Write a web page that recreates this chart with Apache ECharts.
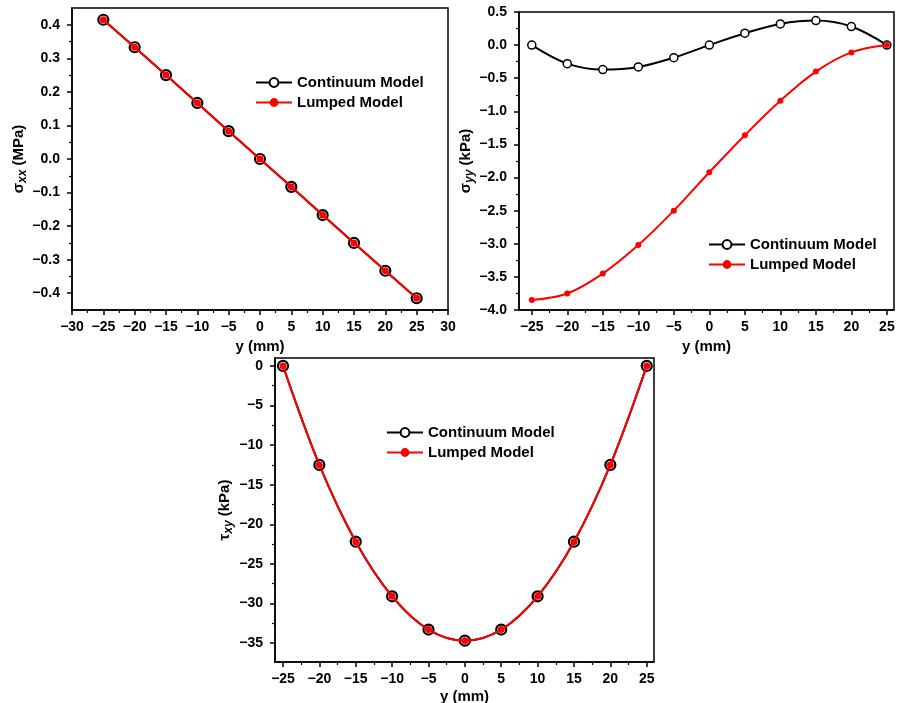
<!DOCTYPE html>
<html>
<head>
<meta charset="utf-8">
<script src="https://cdn.jsdelivr.net/npm/echarts@6/dist/echarts.min.js"></script>
<style>
  html, body { margin: 0; padding: 0; background: #fff; }
  #main { width: 898px; height: 703px; }
</style>
</head>
<body>
<div id="main"></div>
<script>
// positions across the beam (mm)
var yPos = [-25, -20, -15, -10, -5, 0, 5, 10, 15, 20, 25];

// sigma_xx (MPa)
var sxxCont = [0.415, 0.333, 0.25, 0.167, 0.083, 0, -0.083, -0.167, -0.25, -0.333, -0.415];
var sxxLump = [0.415, 0.333, 0.25, 0.167, 0.083, 0, -0.083, -0.167, -0.25, -0.333, -0.415];

// sigma_yy (kPa)
var syyCont = [0, -0.28, -0.37, -0.33, -0.19, 0, 0.18, 0.32, 0.37, 0.28, 0];
var syyLump = [-3.85, -3.75, -3.45, -3.02, -2.5, -1.92, -1.36, -0.84, -0.40, -0.11, 0];

// tau_xy (kPa)
var txyCont = [0, -12.5, -22.2, -29.1, -33.3, -34.7, -33.3, -29.1, -22.2, -12.5, 0];
var txyLump = [0, -12.5, -22.2, -29.1, -33.3, -34.7, -33.3, -29.1, -22.2, -12.5, 0];

// ticks
var x1Ticks = [-30, -25, -20, -15, -10, -5, 0, 5, 10, 15, 20, 25, 30];
var x1Minor = [-27.5, -22.5, -17.5, -12.5, -7.5, -2.5, 2.5, 7.5, 12.5, 17.5, 22.5, 27.5];
var y1Ticks = [-0.4, -0.3, -0.2, -0.1, 0, 0.1, 0.2, 0.3, 0.4];
var y1Minor = [-0.35, -0.25, -0.15, -0.05, 0.05, 0.15, 0.25, 0.35];
var xTicks = [-25, -20, -15, -10, -5, 0, 5, 10, 15, 20, 25];
var xMinor = [-22.5, -17.5, -12.5, -7.5, -2.5, 2.5, 7.5, 12.5, 17.5, 22.5];
var y2Ticks = [-4, -3.5, -3, -2.5, -2, -1.5, -1, -0.5, 0, 0.5];
var y2Minor = [-3.75, -3.25, -2.75, -2.25, -1.75, -1.25, -0.75, -0.25, 0.25];
var y3Ticks = [-35, -30, -25, -20, -15, -10, -5, 0];
var y3Minor = [-32.5, -27.5, -22.5, -17.5, -12.5, -7.5, -2.5];

var FONT = 'Liberation Sans, Arial, sans-serif';

function minus(s) { return String(s).replace('-', '\u2212'); }
function fmt1(v) { return minus(Math.abs(v) < 1e-9 ? '0.0' : v.toFixed(1)); }
function fmt0(v) { return minus(Math.round(v)); }

function pairs(xs, ys) {
  return xs.map(function (x, i) { return [x, ys[i]]; });
}

function axes(dim, gridIndex, min, max, majors, minors, formatter, name, nameGap) {
  var pos = dim === 'x' ? 'bottom' : 'left';
  var major = {
    type: 'value', gridIndex: gridIndex, position: pos, min: min, max: max,
    axisLine: { show: true, onZero: false, lineStyle: { color: '#000', width: 1.5 } },
    axisTick: { show: true, customValues: majors, length: 5, lineStyle: { color: '#000', width: 1.5 } },
    axisLabel: { customValues: majors, formatter: formatter, color: '#000', fontWeight: 'bold',
      fontSize: 14, fontFamily: FONT, margin: dim === 'x' ? 10 : 12 },
    splitLine: { show: false },
    name: name, nameLocation: 'middle', nameGap: nameGap,
    nameTextStyle: { color: '#000', fontWeight: 'bold', fontSize: 15, fontFamily: FONT }
  };
  var minor = {
    type: 'value', gridIndex: gridIndex, position: pos, min: min, max: max, offset: 0,
    axisLine: { show: false, onZero: false },
    axisTick: { show: true, customValues: minors, length: 3, lineStyle: { color: '#000', width: 1.2 } },
    axisLabel: { show: false },
    splitLine: { show: false }
  };
  return [major, minor];
}

var richName = {
  a: { fontSize: 15, fontWeight: 'bold', fontFamily: FONT, color: '#000', lineHeight: 18 },
  b: { fontSize: 12, fontWeight: 'bold', fontStyle: 'italic', fontFamily: FONT, color: '#000',
    lineHeight: 12, padding: [8, 0, 0, 0] }
};

function yAxes(gridIndex, min, max, majors, minors, formatter, sym, sub, unit, nameGap) {
  var a = axes('y', gridIndex, min, max, majors, minors, formatter, '{a|' + sym + '}{b|' + sub + '}{a| ' + unit + '}', nameGap);
  a[0].nameTextStyle.rich = richName;
  return a;
}

function contSeries(data, xi, yi, size, bw, smooth) {
  return {
    name: 'Continuum Model', type: 'line', xAxisIndex: xi, yAxisIndex: yi, data: data,
    smooth: smooth, symbol: 'circle', symbolSize: size, showAllSymbol: true,
    lineStyle: { color: '#000', width: 2 },
    itemStyle: { color: '#fff', borderColor: '#000', borderWidth: bw },
    z: 2
  };
}
function lumpSeries(data, xi, yi, size, smooth) {
  return {
    name: 'Lumped Model', type: 'line', xAxisIndex: xi, yAxisIndex: yi, data: data,
    smooth: smooth, symbol: 'circle', symbolSize: size, showAllSymbol: true,
    lineStyle: { color: '#ff0000', width: 2 },
    itemStyle: { color: '#ff0000', borderWidth: 0 },
    z: 3
  };
}

function legend(left, top) {
  return {
    left: left, top: top, orient: 'vertical', padding: 0, itemWidth: 36, itemHeight: 11, itemGap: 5,
    selectedMode: false,
    textStyle: { color: '#000', fontWeight: 'bold', fontSize: 15, fontFamily: FONT },
    data: ['Continuum Model', 'Lumped Model']
  };
}

var x1 = axes('x', 0, -30, 30, x1Ticks, x1Minor, fmt0, 'y (mm)', 29);
var y1 = yAxes(0, -0.45, 0.45, y1Ticks, y1Minor, fmt1, '\u03c3', 'xx', '(MPa)', 44);
var x2 = axes('x', 1, -26.8, 26, xTicks, xMinor, fmt0, 'y (mm)', 29);
var y2 = yAxes(1, -4, 0.5, y2Ticks, y2Minor, fmt1, '\u03c3', 'yy', '(kPa)', 36);
var x3 = axes('x', 2, -26.1, 26, xTicks, xMinor, fmt0, 'y (mm)', 27);
var y3 = yAxes(2, -37.4, 1, y3Ticks, y3Minor, fmt0, '\u03c4', 'xy', '(kPa)', 41);

function grid(left, top, width, height) {
  return { left: left, top: top, width: width, height: height, show: true,
    borderColor: '#000', borderWidth: 1.5, outerBoundsMode: 'none', containLabel: false };
}

var chart = echarts.init(document.getElementById('main'));
chart.setOption({
  backgroundColor: '#fff',
  animation: false,
  grid: [grid(72, 8, 376, 302), grid(519, 12, 375, 298), grid(275, 358, 379, 304)],
  xAxis: [x1[0], x1[1], x2[0], x2[1], x3[0], x3[1]],
  yAxis: [y1[0], y1[1], y2[0], y2[1], y3[0], y3[1]],
  legend: [legend(255, 75), legend(708, 237), legend(386, 425)],
  series: [
    contSeries(pairs(yPos, sxxCont), 0, 0, 10, 2.2, false),
    lumpSeries(pairs(yPos, sxxLump), 0, 0, 7, false),
    contSeries(pairs(yPos, syyCont), 2, 2, 8, 1.5, 0.35),
    lumpSeries(pairs(yPos, syyLump), 2, 2, 6, 0.35),
    contSeries(pairs(yPos, txyCont), 4, 4, 10, 2.2, 0.35),
    lumpSeries(pairs(yPos, txyLump), 4, 4, 7, 0.35)
  ]
});
</script>
</body>
</html>
